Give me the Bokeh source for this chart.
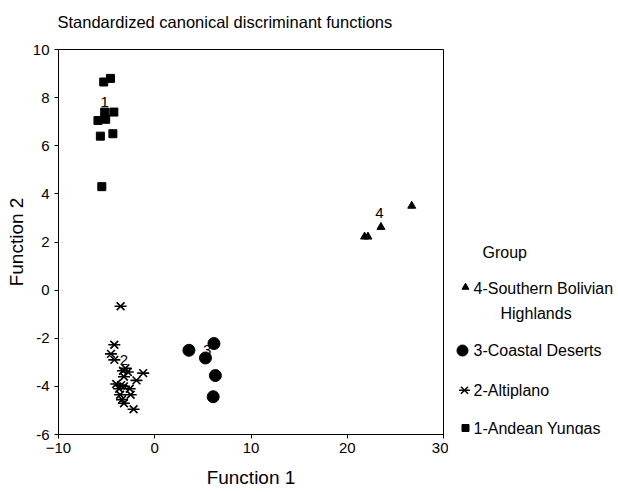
from bokeh.plotting import figure
from bokeh.layouts import row
from bokeh.models import Range1d, FixedTicker, Title
from bokeh.core.properties import value
from bokeh.embed import file_html
from bokeh.resources import INLINE

FONT = "Liberation Sans"

# ---- data ----
g1_x = [-5.3, -4.6, -5.2, -4.25, -5.9, -5.1, -5.65, -4.35, -5.5]
g1_y = [8.65, 8.8, 7.4, 7.4, 7.05, 7.1, 6.4, 6.5, 4.3]

g2_x = [-3.55, -4.2, -4.55, -4.2, -3.05, -2.8, -1.2, -3.2, -1.9, -4.0,
        -3.5, -3.2, -2.6, -3.6, -2.5, -3.4, -3.2, -2.2, -3.3, -3.7]
g2_y = [-0.67, -2.27, -2.65, -2.9, -3.25, -3.4, -3.45, -3.6, -3.75, -3.9,
        -3.95, -4.0, -4.1, -4.35, -4.35, -4.55, -4.7, -4.95, -3.35, -4.1]

g3_x = [3.55, 6.15, 5.27, 6.3, 6.07]
g3_y = [-2.5, -2.22, -2.82, -3.55, -4.43]

g4_x = [26.7, 23.5, 21.8, 22.15]
g4_y = [3.5, 2.62, 2.22, 2.22]

centroid_labels = ["1", "2", "3", "4"]
centroid_x = [-5.2, -3.2, 5.45, 23.35]
centroid_y = [7.8, -2.92, -2.47, 3.22]

x_ticks = [-10, 0, 10, 20, 30]
y_ticks = [-6, -4, -2, 0, 2, 4, 6, 8, 10]

title_text = "Standardized canonical discriminant functions"
legend_title = "Group"
group_names = ["4-Southern Bolivian", "Highlands", "3-Coastal Deserts", "2-Altiplano", "1-Andean Yungas"]

# ---- main plot ----
p = figure(width=448, height=490, x_range=Range1d(-10, 30), y_range=Range1d(-6, 10),
           output_backend="svg", toolbar_location=None,
           min_border_left=58, min_border_right=5, min_border_top=49, min_border_bottom=54)
p.grid.visible = False
p.outline_line_color = "black"
p.outline_line_alpha = 1
p.outline_line_width = 1

# spacer between frame and title, then the title itself (stacked outward)
p.add_layout(Title(text=" ", text_font_size="1px", standoff=15), "above")
p.add_layout(Title(text=title_text, text_font=FONT, text_font_size="16.5px",
                   text_font_style="normal", text_color="black", standoff=2, offset=-1,
                   align="left"), "above")

p.xaxis.ticker = FixedTicker(ticks=x_ticks)
p.yaxis.ticker = FixedTicker(ticks=y_ticks)
p.xaxis.major_label_overrides = {-10: "\u221210"}
p.yaxis.major_label_overrides = {-6: "-6", -4: "-4", -2: "-2"}
p.xaxis.axis_label = "Function 1"
p.yaxis.axis_label = "Function 2"
for ax in p.axis:
    ax.axis_line_color = "black"
    ax.major_tick_line_color = "black"
    ax.major_tick_out = 4
    ax.major_tick_in = 0
    ax.minor_tick_out = 0
    ax.minor_tick_in = 0
    ax.major_label_text_font = FONT
    ax.major_label_text_font_size = "15px"
    ax.major_label_text_color = "black"
    ax.axis_label_text_font = FONT
    ax.axis_label_text_font_size = "19px"
    ax.axis_label_text_font_style = "normal"
    ax.axis_label_text_color = "black"
p.xaxis.major_label_standoff = 4
p.yaxis.major_label_standoff = 5
p.xaxis.axis_label_standoff = 11
p.yaxis.axis_label_standoff = 3

p.text(x=centroid_x, y=centroid_y, text=centroid_labels, text_font=value(FONT),
       text_font_size="15px", text_align="center", text_baseline="middle", text_color="black")

p.scatter(g1_x, g1_y, marker="square", size=8, color="black")
p.scatter(g2_x, g2_y, marker="x", size=11, line_color="black", line_width=1.6)
p.scatter(g2_x, g2_y, marker="dash", size=12, line_color="black", line_width=1.6)
p.scatter(g3_x, g3_y, marker="circle", size=12, color="black")
p.scatter(g4_x, g4_y, marker="triangle", size=8, color="black")

# ---- legend panel (frames of a row are aligned, so it shares the y scale) ----
leg = figure(width=168, height=490, x_range=Range1d(448, 616), y_range=p.y_range,
             output_backend="svg", toolbar_location=None, min_border=0,
             x_axis_location=None, y_axis_location=None)
leg.outline_line_color = None
leg.grid.visible = False

leg.text(x=[482], y=[1.58], text=[legend_title], text_font=value(FONT), text_font_size="16px",
         text_align="left", text_baseline="middle", text_color="black")
leg.text(x=[473, 500, 473, 473, 473], y=[0.05, -0.98, -2.51, -4.16, -5.73], text=group_names,
         text_font=value(FONT), text_font_size="16px", text_align="left",
         text_baseline="middle", text_color="black")
leg.scatter([465], [0.12], marker="triangle", size=7, color="black")
leg.scatter([462], [-2.51], marker="circle", size=11, color="black")
leg.scatter([464], [-4.16], marker="x", size=10, line_color="black", line_width=1.5)
leg.scatter([464], [-4.16], marker="dash", size=11, line_color="black", line_width=1.5)
leg.scatter([465], [-5.73], marker="square", size=7, color="black")

layout = row(p, leg)
open("out.html", "w").write(file_html(layout, INLINE))
